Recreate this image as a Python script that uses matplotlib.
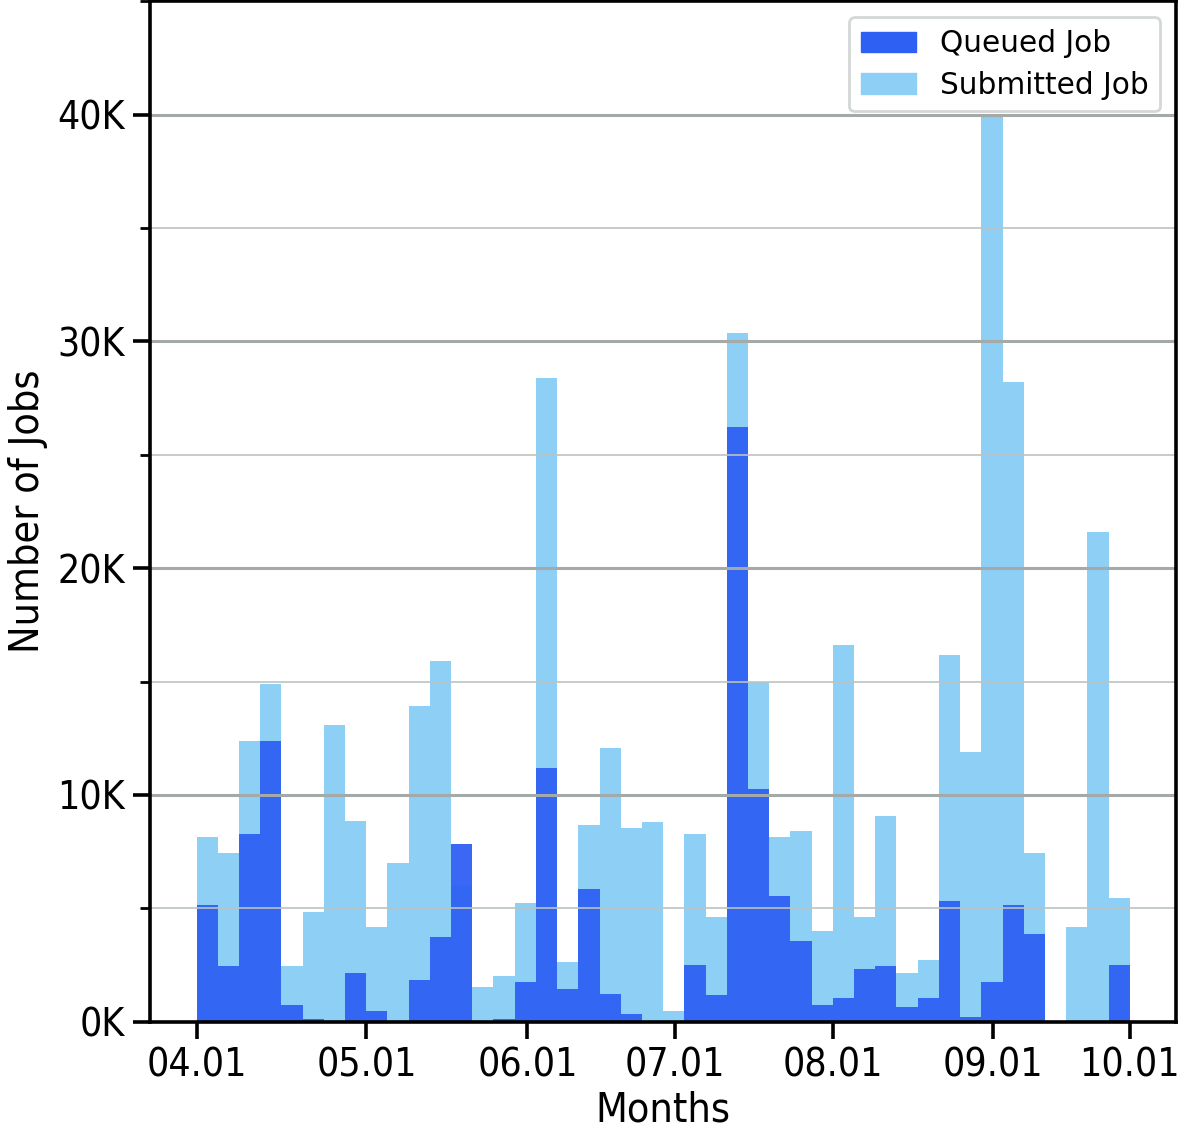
import matplotlib
matplotlib.use("Agg")
import matplotlib.pyplot as plt
import numpy as np
from matplotlib.ticker import FuncFormatter, MultipleLocator
from matplotlib.patches import Patch

# Data (thousands of jobs per bin)
submitted = [8.13, 7.44, 12.37, 14.89, 2.44, 4.85, 13.07, 8.84, 4.16, 7.01,
             13.9, 15.89, 5.99, 1.51, 2.03, 5.25, 28.38, 2.62, 8.68, 12.08,
             8.56, 8.8, 0.46, 8.27, 4.63, 30.38, 14.99, 8.13, 8.43, 4.02,
             16.6, 4.63, 9.09, 2.16, 2.74, 16.19, 11.9, 40.0, 28.2, 7.44,
             0.0, 4.16, 21.58, 5.44]
queued = [5.14, 2.47, 8.27, 12.37, 0.75, 0.1, 0.0, 2.15, 0.46, 0.0,
          1.86, 3.74, 7.85, 0.0, 0.1, 1.75, 11.2, 1.46, 5.87, 1.21,
          0.34, 0.0, 0.0, 2.51, 1.17, 26.21, 10.26, 5.56, 3.56, 0.74,
          1.04, 2.32, 2.44, 0.64, 1.04, 5.32, 0.22, 1.75, 5.14, 3.87,
          0.0, 0.0, 0.0, 2.51]
month_labels = ["04.01", "05.01", "06.01", "07.01", "08.01", "09.01", "10.01"]
month_pos = [0, 8.01, 15.6, 22.55, 30.02, 37.56, 44]

plt.rcParams['font.family'] = ['DejaVu Sans']
plt.rcParams['font.stretch'] = 'condensed'

sub_k = np.array(submitted) * 1000
que_k = np.array(queued) * 1000
x = np.arange(len(submitted))

fig = plt.figure(figsize=(11.8, 11.31), dpi=100)
ax = fig.add_axes([0.127, 0.0966, 0.997 - 0.127, 0.999 - 0.0966])

c_sub = '#8ecff6'
c_que = '#2f60f4'
ax.bar(x, sub_k, width=1.0, align='edge', color=c_sub, linewidth=0, zorder=1)
ax.bar(x, que_k, width=1.0, align='edge', color=c_que, alpha=0.95, linewidth=0, zorder=2)

ax.set_ylim(0, 45000)
ax.set_xlim(-2.2, 46.2)
ax.yaxis.set_major_locator(MultipleLocator(10000))
ax.yaxis.set_minor_locator(MultipleLocator(5000))
ax.yaxis.set_major_formatter(FuncFormatter(lambda v, p: f"{v/1000:.0f}K"))
ax.set_xticks(month_pos)
ax.set_xticklabels(month_labels)

ax.grid(axis='y', which='major', color='#a3aaa8', linewidth=2.2, zorder=3)
ax.grid(axis='y', which='minor', color='#bcc3c1', linewidth=1.2, zorder=3)
ax.set_axisbelow(False)

for s in ax.spines.values():
    s.set_linewidth(2.6)
    s.set_zorder(4)
ax.tick_params(axis='both', which='major', labelsize=28, length=12, width=2.6, pad=6)
ax.tick_params(axis='y', which='minor', length=7, width=2.0)

ax.set_xlabel("Months", fontsize=29.5, labelpad=4)
ax.set_ylabel("Number of Jobs", fontsize=29.5, labelpad=7)

handles = [Patch(color=c_que, label="Queued Job"), Patch(color=c_sub, label="Submitted Job")]
leg = ax.legend(handles=handles, loc='upper right', framealpha=0.9,
                prop={'family': 'DejaVu Sans', 'stretch': 'normal', 'size': 21.3},
                handlelength=1.85, borderaxespad=0.55, labelspacing=0.42)
leg.get_frame().set_edgecolor('#cfd3d3')
leg.get_frame().set_linewidth(2)
leg.set_zorder(10)

fig.savefig("out.png", dpi=100)
